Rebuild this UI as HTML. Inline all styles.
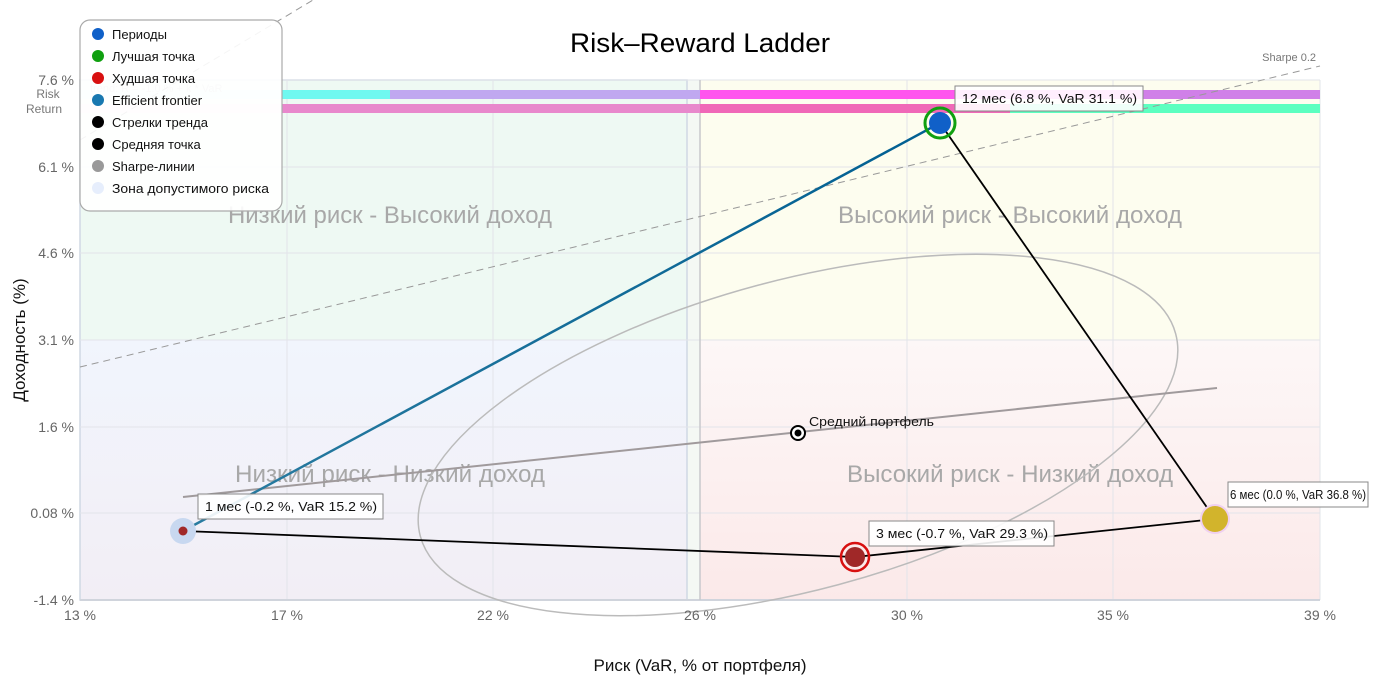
<!DOCTYPE html>
<html><head><meta charset="utf-8"><style>
html,body{margin:0;padding:0;background:#fff;}
svg{display:block;font-family:"Liberation Sans","DejaVu Sans",sans-serif;}
</style></head><body>
<svg width="1400" height="700" viewBox="0 0 1400 700" xmlns="http://www.w3.org/2000/svg">
<defs>
<linearGradient id="bl" x1="0" y1="0" x2="0" y2="1"><stop offset="0" stop-color="#f1f5fd"/><stop offset="1" stop-color="#f2eef5"/></linearGradient>
<linearGradient id="br" x1="0" y1="0" x2="0" y2="1"><stop offset="0" stop-color="#fdf7f7"/><stop offset="1" stop-color="#fbe9e9"/></linearGradient>
<linearGradient id="ef" x1="0" y1="1" x2="1" y2="0"><stop offset="0" stop-color="#2a7ca0"/><stop offset="1" stop-color="#005f92"/></linearGradient>
</defs>
<rect x="80" y="80" width="607" height="260" fill="#eef9f3"/>
<rect x="80" y="340" width="607" height="260" fill="url(#bl)"/>
<rect x="700" y="80" width="620" height="260" fill="#fdfdef"/>
<rect x="700" y="340" width="620" height="260" fill="url(#br)"/>
<rect x="687" y="80" width="13" height="520" fill="#f4f8f4"/>
<rect x="80" y="80" width="607" height="520" fill="none" stroke="#d0d8e4" stroke-width="1.5"/>
<g stroke="#e2e4ea" stroke-width="1">
<line x1="287" y1="80" x2="287" y2="600"/><line x1="493" y1="80" x2="493" y2="600"/>
<line x1="907" y1="80" x2="907" y2="600"/><line x1="1113" y1="80" x2="1113" y2="600"/>
<line x1="1320" y1="80" x2="1320" y2="600"/>
<line x1="80" y1="167" x2="1320" y2="167"/><line x1="80" y1="253" x2="1320" y2="253"/>
<line x1="80" y1="340" x2="1320" y2="340"/><line x1="80" y1="427" x2="1320" y2="427"/>
<line x1="80" y1="513" x2="1320" y2="513"/>
<line x1="80" y1="80" x2="1320" y2="80"/>
</g>
<line x1="80" y1="600" x2="1320" y2="600" stroke="#d0d4dc" stroke-width="2"/>
<line x1="700" y1="80" x2="700" y2="600" stroke="#c8c8cc" stroke-width="1.5"/>
<rect x="80" y="90" width="310" height="9" fill="#e0fdfb"/>
<rect x="282" y="90" width="108" height="9" fill="#6ff8f0"/>
<rect x="390" y="90" width="310" height="9" fill="#c0a8f0"/>
<rect x="700" y="90" width="440" height="9" fill="#ff55ee"/>
<rect x="1140" y="90" width="180" height="9" fill="#d080e8"/>
<rect x="80" y="104" width="202" height="9" fill="#fbe3f2"/>
<rect x="282" y="104" width="418" height="9" fill="#e888cc"/>
<rect x="700" y="104" width="310" height="9" fill="#f068b8"/>
<rect x="1010" y="104" width="310" height="9" fill="#5cffc0"/>
<text x="90" y="92" font-size="11" fill="#c8c8c8">trend: R = -1.0 % + k * VaR</text>
<g font-size="24" fill="#a8a8a8" text-anchor="middle">
<text x="390" y="223" textLength="324" lengthAdjust="spacingAndGlyphs">Низкий риск - Высокий доход</text>
<text x="1010" y="223" textLength="344" lengthAdjust="spacingAndGlyphs">Высокий риск - Высокий доход</text>
<text x="390" y="482" textLength="310" lengthAdjust="spacingAndGlyphs">Низкий риск - Низкий доход</text>
<text x="1010" y="482" textLength="326" lengthAdjust="spacingAndGlyphs">Высокий риск - Низкий доход</text>
</g>
<line x1="80" y1="367" x2="1320" y2="66" stroke="#999" stroke-width="1" stroke-dasharray="7,5"/>
<line x1="80" y1="140" x2="313" y2="0" stroke="#999" stroke-width="1" stroke-dasharray="7,5"/>
<text x="1316" y="61" font-size="11" fill="#777" text-anchor="end">Sharpe 0.2</text>
<ellipse cx="798" cy="435" rx="391" ry="155" transform="rotate(-15 798 435)" fill="none" stroke="#bbb" stroke-width="1.5"/>
<line x1="183" y1="497" x2="1217" y2="388" stroke="#a09a9c" stroke-width="2"/>
<line x1="183" y1="531" x2="940" y2="123" stroke="url(#ef)" stroke-width="2.5"/>
<polyline points="940,123 1215,519" fill="none" stroke="#000" stroke-width="1.8"/>
<polyline points="183,531 855,557 1215,519" fill="none" stroke="#000" stroke-width="1.8"/>
<circle cx="183" cy="531" r="13" fill="#c8d8f0"/>
<circle cx="183" cy="531" r="4.5" fill="#a02828"/>
<circle cx="855" cy="557" r="14" fill="none" stroke="#d81010" stroke-width="2.5"/>
<circle cx="855" cy="557" r="10" fill="#a02828"/>
<circle cx="1215" cy="519" r="15" fill="#f0d0f0"/>
<circle cx="1215" cy="519" r="13" fill="#d2b42c"/>
<circle cx="940" cy="123" r="15" fill="none" stroke="#10a010" stroke-width="3"/>
<circle cx="940" cy="123" r="11" fill="#1060c8"/>
<circle cx="798" cy="433" r="7" fill="#fff" stroke="#000" stroke-width="2"/>
<circle cx="798" cy="433" r="3.5" fill="#000"/>
<text x="809" y="426" font-size="13" fill="#111" textLength="125" lengthAdjust="spacingAndGlyphs">Средний портфель</text>
<g font-size="13" fill="#111">
<rect x="955" y="86" width="188" height="25" fill="#fff" fill-opacity="0.9" stroke="#888"/>
<text x="962" y="103" textLength="175" lengthAdjust="spacingAndGlyphs">12 мес (6.8 %, VaR 31.1 %)</text>
<rect x="198" y="494" width="185" height="25" fill="#fff" fill-opacity="0.9" stroke="#888"/>
<text x="205" y="511" textLength="172" lengthAdjust="spacingAndGlyphs">1 мес (-0.2 %, VaR 15.2 %)</text>
<rect x="869" y="521" width="185" height="25" fill="#fff" fill-opacity="0.9" stroke="#888"/>
<text x="876" y="538" textLength="172" lengthAdjust="spacingAndGlyphs">3 мес (-0.7 %, VaR 29.3 %)</text>
<rect x="1228" y="482" width="140" height="25" fill="#fff" fill-opacity="0.9" stroke="#888"/>
<text x="1230" y="499" textLength="136" lengthAdjust="spacingAndGlyphs">6 мес (0.0 %, VaR 36.8 %)</text>
</g>
<g font-size="14" fill="#666" text-anchor="middle">
<text x="80" y="620">13 %</text><text x="287" y="620">17 %</text><text x="493" y="620">22 %</text>
<text x="700" y="620">26 %</text><text x="907" y="620">30 %</text><text x="1113" y="620">35 %</text><text x="1320" y="620">39 %</text>
</g>
<g font-size="14" fill="#666" text-anchor="end">
<text x="74" y="85">7.6 %</text><text x="74" y="172">6.1 %</text><text x="74" y="258">4.6 %</text>
<text x="74" y="345">3.1 %</text><text x="74" y="432">1.6 %</text><text x="74" y="518">0.08 %</text><text x="74" y="605">-1.4 %</text>
</g>
<text x="48" y="98" font-size="12" fill="#777" text-anchor="middle">Risk</text>
<text x="44" y="113" font-size="12" fill="#777" text-anchor="middle">Return</text>
<text x="700" y="671" font-size="17" fill="#111" text-anchor="middle">Риск (VaR, % от портфеля)</text>
<text transform="translate(25 340) rotate(-90)" font-size="17" fill="#111" text-anchor="middle">Доходность (%)</text>
<text x="700" y="52" font-size="27" fill="#000" text-anchor="middle" textLength="260" lengthAdjust="spacingAndGlyphs">Risk–Reward Ladder</text>
<rect x="80" y="20" width="202" height="191" rx="10" fill="#fff" fill-opacity="0.9" stroke="#aaa" stroke-width="1.2"/>
<g font-size="13" fill="#111">
<circle cx="98" cy="34" r="6" fill="#1060c8"/><text x="112" y="39">Периоды</text>
<circle cx="98" cy="56" r="6" fill="#10a010"/><text x="112" y="61">Лучшая точка</text>
<circle cx="98" cy="78" r="6" fill="#d81010"/><text x="112" y="83">Худшая точка</text>
<circle cx="98" cy="100" r="6" fill="#1878b0"/><text x="112" y="105">Efficient frontier</text>
<circle cx="98" cy="122" r="6" fill="#000"/><text x="112" y="127">Стрелки тренда</text>
<circle cx="98" cy="144" r="6" fill="#000"/><text x="112" y="149">Средняя точка</text>
<circle cx="98" cy="166" r="6" fill="#999"/><text x="112" y="171">Sharpe-линии</text>
<circle cx="98" cy="188" r="6" fill="#e6eefc"/><text x="112" y="193" textLength="157" lengthAdjust="spacingAndGlyphs">Зона допустимого риска</text>
</g>
</svg>
</body></html>
